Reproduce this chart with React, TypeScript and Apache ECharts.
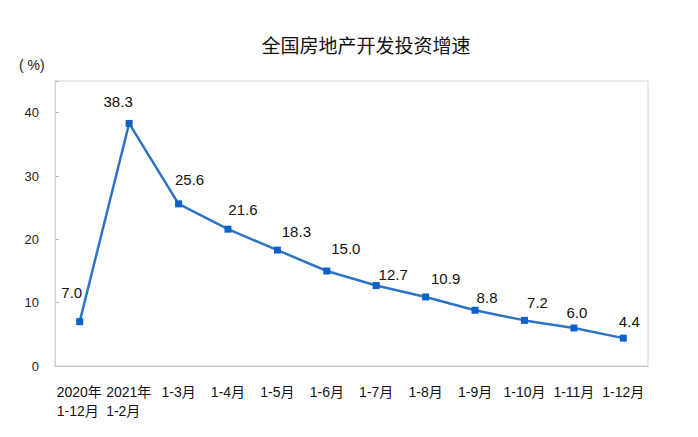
import React, { useEffect, useRef } from "react";
import * as echarts from "echarts";

const categories = [
  "2020年\n1-12月",
  "2021年\n1-2月",
  "1-3月",
  "1-4月",
  "1-5月",
  "1-6月",
  "1-7月",
  "1-8月",
  "1-9月",
  "1-10月",
  "1-11月",
  "1-12月",
];
const growth = [7.0, 38.3, 25.6, 21.6, 18.3, 15.0, 12.7, 10.9, 8.8, 7.2, 6.0, 4.4];
const yTicks = [0, 10, 20, 30, 40];

// label offsets (style only)
const labelOffsets: [number, number][] = [
  [-8, -13], [-11, -6], [11, -8], [15, -4], [19, -3], [19, -7],
  [17, 5], [20, -2], [12, 3], [13, -2], [3, 0], [6, -1],
];

const FONT = "'Liberation Sans', 'Noto Sans CJK SC', sans-serif";

export default function App() {
  const ref = useRef<HTMLDivElement>(null);
  useEffect(() => {
    if (!ref.current) return;
    const chart = echarts.init(ref.current, undefined, { renderer: "svg" });
    chart.setOption({
      animation: false,
      backgroundColor: "#ffffff",
      title: [
        {
          text: "全国房地产开发投资增速",
          left: 361,
          textAlign: "center",
          top: 30,
          textStyle: { fontFamily: "'Noto Sans CJK SC', sans-serif", fontSize: 19, fontWeight: "normal", color: "#111" },
        },
        {
          text: "( %)",
          left: 14,
          top: 53,
          textStyle: { fontFamily: FONT, fontSize: 14, fontWeight: "normal", color: "#222" },
        },
      ],
      grid: {
        left: 55,
        right: 50,
        top: 81,
        bottom: 71,
        show: true,
        borderColor: "#d4d4d4",
        borderWidth: 1,
        containLabel: false,
      },
      xAxis: {
        type: "category",
        data: categories,
        boundaryGap: true,
        axisLine: { lineStyle: { color: "#bfbfbf" } },
        axisTick: { inside: true, length: 4, lineStyle: { color: "#bfbfbf" } },
        axisLabel: {
          interval: 0,
          margin: 16,
          color: "#111",
          fontFamily: FONT,
          fontSize: 14,
          lineHeight: 19,
          formatter: (v: string) =>
            v.includes("\n")
              ? v
                  .split("\n")
                  .map((s) => `{l|${s}}`)
                  .join("\n")
              : v,
          rich: {
            l: { width: 46, align: "left", fontFamily: FONT, fontSize: 14, lineHeight: 19, color: "#111" },
          },
        },
        splitLine: { show: false },
      },
      yAxis: {
        type: "value",
        min: 0,
        max: 45,
        interval: 10,
        axisLine: { show: true, lineStyle: { color: "#d4d4d4" } },
        axisTick: { show: true, inside: true, length: 4, lineStyle: { color: "#bfbfbf" } },
        axisLabel: {
          margin: 16,
          color: "#222",
          fontFamily: FONT,
          fontSize: 13,
          formatter: (v: number) => (yTicks.includes(v) ? String(v) : ""),
        },
        splitLine: { show: false },
      },
      series: [
        {
          type: "line",
          data: growth.map((v, i) => ({
            value: v,
            label: { offset: labelOffsets[i] },
          })),
          symbol: "rect",
          symbolSize: 7,
          lineStyle: { color: "#2e74c6", width: 2.5 },
          itemStyle: { color: "#0b63c9" },
          label: {
            show: true,
            position: "top",
            distance: 5,
            formatter: (p: any) => Number(p.value).toFixed(1),
            color: "#111",
            fontFamily: FONT,
            fontSize: 15,
          },
        },
      ],
    });
    return () => chart.dispose();
  }, []);
  return (
    <div
      ref={ref}
      style={{ position: "fixed", left: 0, top: 0, width: 698, height: 437, background: "#fff" }}
    />
  );
}
